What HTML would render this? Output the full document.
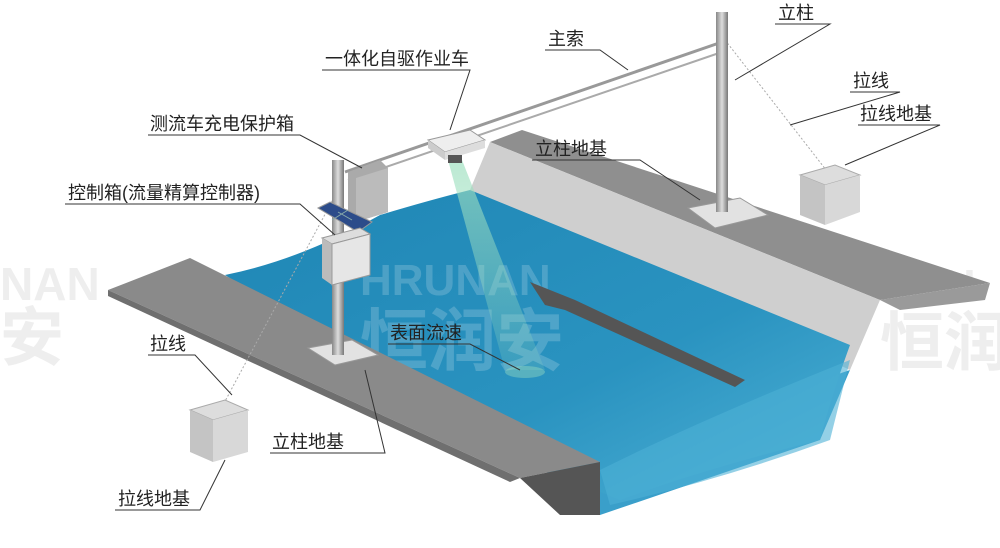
<!DOCTYPE html>
<html><head><meta charset="utf-8">
<style>
html,body{margin:0;padding:0;background:#fff;}
svg{display:block;}
text{font-family:"Liberation Sans","Noto Sans CJK SC",sans-serif;font-size:18px;fill:#222;}
.wm{fill:#eeeeee;font-weight:bold;}
</style></head><body>
<svg width="1000" height="548" viewBox="0 0 1000 548" xmlns="http://www.w3.org/2000/svg">
<defs>
<linearGradient id="water" x1="0" y1="0" x2="1" y2="1">
<stop offset="0" stop-color="#1f86b5"/><stop offset="0.6" stop-color="#2a93c0"/><stop offset="1" stop-color="#4fb2d6"/></linearGradient>
<linearGradient id="pole" x1="0" x2="1"><stop offset="0" stop-color="#888"/><stop offset="0.5" stop-color="#ddd"/><stop offset="1" stop-color="#777"/></linearGradient>
<linearGradient id="beam" x1="0" y1="0" x2="0" y2="1"><stop offset="0" stop-color="#9fe0c0" stop-opacity="0.7"/><stop offset="1" stop-color="#9fe0c0" stop-opacity="0.15"/></linearGradient>
</defs>
<text x="0" y="300" class="wm" style="font-size:46px">NAN</text>
<text x="0" y="360" class="wm" style="font-size:64px">安</text>
<text x="880" y="300" class="wm" style="font-size:44px">HRU</text>
<text x="880" y="365" class="wm" style="font-size:64px">恒润</text>
<polygon points="490,142 522,130 990,283 880,300" fill="#8f8f8f"/>
<polygon points="490,142 880,300 850,370 470,190" fill="#cfcfcf"/>
<polygon points="880,300 990,283 985,300 900,310" fill="#9a9a9a"/>
<polygon points="560,470 850,370 820,440 600,515" fill="#3a9fca"/>
<path d="M225,275 Q300,260 380,215 Q430,200 470,190 L850,345 Q830,400 820,440 Q700,470 620,500 Q560,475 520,465 Z" fill="url(#water)"/>
<path d="M600,470 Q700,420 850,360 L830,440 Q720,480 610,505 Z" fill="#4db0d6" opacity="0.6"/>
<text x="360" y="295" class="wm" style="font-size:44px;fill:#fff;opacity:.18">HRUNAN</text>
<text x="360" y="365" class="wm" style="font-size:68px;fill:#fff;opacity:.18">恒润安</text>
<polygon points="108,290 190,258 600,462 520,478" fill="#8a8a8a"/>
<polygon points="520,478 600,462 600,515 560,515" fill="#555"/>
<polygon points="108,290 520,478 510,482 108,296" fill="#6f6f6f"/>
<polygon points="530,282 575,300 745,380 735,387 565,310 545,305" fill="#555"/>
<polygon points="448,160 462,160 545,370 505,370" fill="url(#beam)"/>
<ellipse cx="525" cy="372" rx="20" ry="6" fill="#9fe0c0" opacity="0.4"/>
<line x1="345" y1="172" x2="722" y2="42" stroke="#999" stroke-width="3"/>
<line x1="348" y1="180" x2="722" y2="52" stroke="#aaa" stroke-width="2"/>
<line x1="725" y1="40" x2="830" y2="175" stroke="#aaa" stroke-dasharray="2,2"/>
<line x1="338" y1="190" x2="215" y2="420" stroke="#aaa" stroke-dasharray="2,2"/>
<polygon points="688,208 740,198 768,215 715,228" fill="#e2e2e2" stroke="#999"/>
<rect x="716" y="12" width="12" height="200" fill="url(#pole)"/>
<polygon points="308,348 352,340 378,355 335,365" fill="#e2e2e2" stroke="#999"/>
<rect x="332" y="160" width="12" height="195" fill="url(#pole)"/>
<polygon points="348,172 380,160 388,168 388,212 356,222 348,215" fill="#aaa"/>
<polygon points="356,178 388,168 388,212 356,222" fill="#bbb"/>
<polygon points="428,140 470,130 485,140 445,152" fill="#eee" stroke="#999"/>
<polygon points="428,140 445,152 445,160 428,148" fill="#ccc"/>
<polygon points="445,152 485,140 485,148 445,160" fill="#ddd"/>
<rect x="448" y="155" width="14" height="8" fill="#555"/>
<polygon points="318,208 330,202 372,222 358,232" fill="#2c4c8a" stroke="#999"/>
<line x1="338" y1="212" x2="352" y2="220" stroke="#8aa" />
<line x1="332" y1="220" x2="348" y2="210" stroke="#8aa"/>
<polygon points="322,238 360,228 370,234 332,244" fill="#ddd" stroke="#999"/>
<polygon points="322,238 332,244 332,285 322,278" fill="#bbb"/>
<polygon points="332,244 370,234 370,275 332,285" fill="#e6e6e6" stroke="#999"/>
<polygon points="800,175 835,165 860,175 825,185" fill="#ddd" stroke="#aaa"/>
<polygon points="800,175 825,185 825,225 800,215" fill="#c4c4c4"/>
<polygon points="825,185 860,175 860,212 825,225" fill="#d8d8d8"/>
<polygon points="190,410 225,400 248,410 213,420" fill="#ddd" stroke="#aaa"/>
<polygon points="190,410 213,420 213,462 190,452" fill="#c4c4c4"/>
<polygon points="213,420 248,410 248,452 213,462" fill="#d8d8d8"/>
<g stroke="#333" stroke-width="1" fill="none">
<polyline points="545,50 600,50 628,70"/>
<polyline points="775,24 830,24 735,80"/>
<polyline points="850,92 900,92 790,125"/>
<polyline points="322,70 470,70 450,130"/>
<polyline points="148,135 300,135 362,168"/>
<polyline points="65,204 300,204 335,235"/>
<polyline points="532,160 640,160 700,200"/>
<polyline points="858,125 940,125 845,165"/>
<polyline points="148,355 195,355 232,395"/>
<polyline points="270,453 385,453 365,370"/>
<polyline points="115,510 200,510 225,460"/>
<polyline points="388,344 470,344 520,370"/>
</g>
<text x="548" y="45">主索</text>
<text x="778" y="19">立柱</text>
<text x="853" y="87">拉线</text>
<text x="325" y="65">一体化自驱作业车</text>
<text x="150" y="130">测流车充电保护箱</text>
<text x="68" y="199">控制箱(流量精算控制器)</text>
<text x="535" y="155">立柱地基</text>
<text x="860" y="120">拉线地基</text>
<text x="150" y="350">拉线</text>
<text x="272" y="448">立柱地基</text>
<text x="118" y="505">拉线地基</text>
<text x="390" y="339">表面流速</text>
</svg>
</body></html>
